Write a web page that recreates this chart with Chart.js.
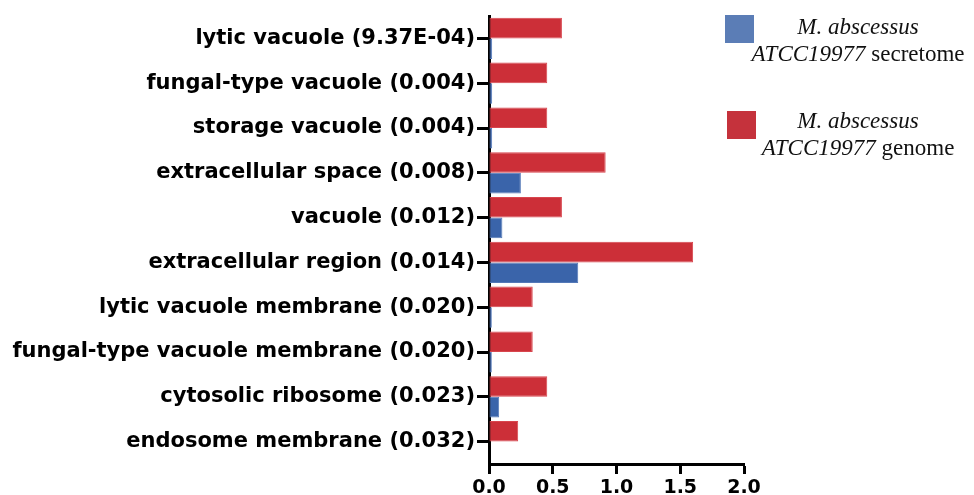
<!DOCTYPE html>
<html>
<head>
<meta charset="utf-8">
<script src="https://cdn.jsdelivr.net/npm/chart.js@4"></script>
<style>
  html, body { margin: 0; padding: 0; background: #fff; }
  #wrap { position: relative; width: 974px; height: 495px; overflow: hidden; }
  #chart { position: absolute; left: 0; top: 0; }
  .sw { position: absolute; width: 29px; height: 28px; }
  .lg { position: absolute; left: 740px; width: 236px; text-align: center;
        font-family: "Liberation Serif", "Times New Roman", serif; font-size: 23px;
        line-height: 27px; color: #111; }
  .lg i { font-style: italic; }
</style>
</head>
<body>
<div id="wrap">
  <canvas id="chart" width="974" height="495"></canvas>
  <div class="sw" style="left:725px; top:15px; background:#5b7db6;"></div>
  <div class="lg" style="top:13px;"><i>M. abscessus</i><br><i>ATCC19977</i> secretome</div>
  <div class="sw" style="left:727px; top:111px; background:#c5323c;"></div>
  <div class="lg" style="top:107px;"><i>M. abscessus</i><br><i>ATCC19977</i> genome</div>
</div>
<script>
const categories = [
  "lytic vacuole (9.37E-04)",
  "fungal-type vacuole (0.004)",
  "storage vacuole (0.004)",
  "extracellular space (0.008)",
  "vacuole (0.012)",
  "extracellular region (0.014)",
  "lytic vacuole membrane (0.020)",
  "fungal-type vacuole membrane (0.020)",
  "cytosolic ribosome (0.023)",
  "endosome membrane (0.032)"
];
const genomeValues = [0.572, 0.457, 0.457, 0.915, 0.572, 1.601, 0.343, 0.343, 0.457, 0.229];
const secretomeValues = [0.025, 0.025, 0.025, 0.25, 0.105, 0.70, 0.022, 0.022, 0.08, 0];
const xTicks = [0, 0.5, 1.0, 1.5, 2.0];
const seriesNames = ["M. abscessus ATCC19977 genome", "M. abscessus ATCC19977 secretome"];

new Chart(document.getElementById('chart'), {
  type: 'bar',
  data: {
    labels: categories,
    datasets: [
      { label: seriesNames[0], data: genomeValues, backgroundColor: '#cc2f38',
        borderColor: '#d8464e', borderWidth: 1, borderSkipped: false,
        categoryPercentage: 0.92, barPercentage: 1.0 },
      { label: seriesNames[1], data: secretomeValues, backgroundColor: '#3a64aa',
        borderColor: '#5479b8', borderWidth: 1, borderSkipped: false,
        categoryPercentage: 0.92, barPercentage: 1.0 }
    ]
  },
  options: {
    indexAxis: 'y',
    responsive: false,
    animation: false,
    events: [],
    layout: { padding: { left: 0, top: 16, right: 230, bottom: 0 } },
    plugins: { legend: { display: false }, tooltip: { enabled: false } },
    scales: {
      y: {
        z: 1,
        offset: true,
        grid: { offset: false, drawOnChartArea: false, drawTicks: true, tickLength: 12, tickWidth: 3, color: '#000' },
        border: { display: true, width: 3, color: '#000' },
        ticks: { color: '#000', padding: 2, font: { family: 'DejaVu Sans', weight: 'bold', size: 21 } },
        afterFit: (s) => { s.width = 489; }
      },
      x: {
        z: 1,
        min: 0, max: 2,
        afterBuildTicks: (s) => { s.ticks = xTicks.map(v => ({ value: v })); },
        grid: { drawOnChartArea: false, drawTicks: true, tickLength: 10, tickWidth: 3, color: '#000' },
        border: { display: true, width: 3, color: '#000' },
        ticks: { color: '#000', padding: 3, font: { family: 'DejaVu Sans', weight: 'bold', size: 19 },
                 callback: (v) => Number(v).toFixed(1) },
        afterFit: (s) => { s.height = 31; }
      }
    }
  }
});
</script>
</body>
</html>
